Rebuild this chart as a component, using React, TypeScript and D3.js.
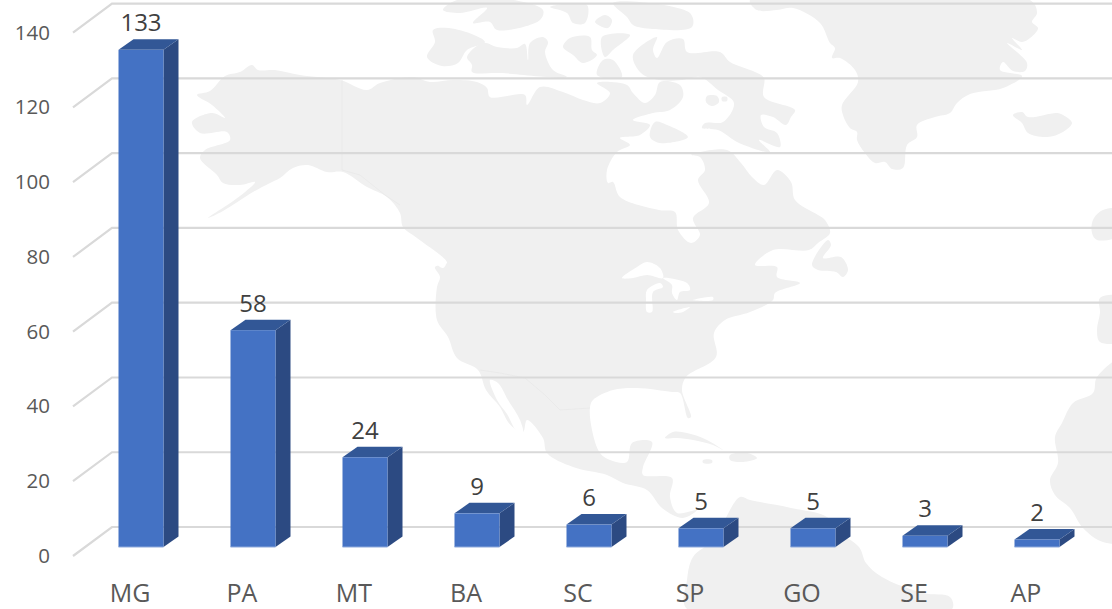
import React from "react";
import * as d3 from "d3";

const categories = ["MG", "PA", "MT", "BA", "SC", "SP", "GO", "SE", "AP"];
const counts = [133, 58, 24, 9, 6, 5, 5, 3, 2];
const yTicks = [0, 20, 40, 60, 80, 100, 120, 140];

type P = [number, number];
// Pale world-map backdrop, traced in picture pixels
const mainland: P[] = [[197,95],[212,105],[225,118],[212,113],[192,122],[200,133],[227,132],[230,140],[205,150],[200,158],[217,175],[223,183],[240,185],[255,182],[240,196],[208,218],[223,211],[253,192],[270,183],[280,178],[293,168],[308,165],[327,172],[343,172],[367,187],[387,197],[400,213],[403,227],[417,238],[447,263],[435,267],[440,277],[437,287],[437,320],[448,337],[457,358],[478,370],[486,390],[500,407],[508,422],[514,428],[523,432],[527,420],[543,438],[547,453],[573,467],[607,475],[623,483],[647,490],[662,508],[683,518],[697,510],[677,513],[670,497],[672,478],[643,475],[643,467],[652,442],[632,443],[627,462],[610,460],[600,453],[592,430],[590,407],[593,400],[613,390],[637,388],[672,392],[680,393],[688,418],[691,417],[682,390],[686,377],[716,357],[714,333],[725,320],[750,312],[773,300],[775,293],[800,283],[777,277],[777,267],[755,265],[773,250],[809,250],[818,243],[830,233],[825,220],[818,215],[795,200],[791,182],[777,170],[764,185],[752,177],[741,163],[727,150],[691,155],[700,157],[705,170],[698,180],[709,203],[693,218],[700,235],[691,243],[678,230],[675,212],[659,210],[620,197],[613,182],[608,183],[607,170],[617,152],[630,145],[620,138],[640,135],[650,125],[633,120],[653,113],[670,110],[683,97],[680,85],[660,82],[655,95],[645,103],[633,93],[627,85],[597,83],[610,93],[600,103],[583,100],[563,92],[540,87],[527,105],[525,95],[490,97],[487,88],[477,82],[453,80],[430,82],[413,77],[380,83],[367,90],[340,80],[300,75],[275,70],[258,70],[252,65],[240,72],[225,76],[210,91]];
const southAmerica: P[] = [[687,609],[687,580],[693,557],[713,540],[740,497],[750,500],[791,508],[827,517],[836,530],[859,547],[866,563],[882,577],[923,593],[950,597],[952,609]];
const greenland: P[] = [[750,0],[1030,0],[1037,13],[1032,22],[1038,28],[1030,38],[1022,42],[1012,38],[1022,50],[1007,43],[1027,63],[1025,71],[1013,71],[1003,62],[1000,70],[1022,76],[1003,88],[970,94],[957,103],[950,113],[935,117],[917,125],[917,137],[907,145],[903,168],[892,169],[885,162],[875,163],[865,153],[857,140],[857,132],[850,128],[843,115],[842,105],[858,82],[855,70],[840,58],[832,58],[835,48],[830,43],[820,23],[793,8],[777,10],[757,10]];
const baffin: P[] = [[633,55],[657,37],[653,50],[657,58],[667,42],[683,39],[687,52],[720,52],[730,62],[755,72],[764,78],[764,97],[795,110],[791,117],[786,125],[773,117],[761,115],[764,127],[777,133],[780,147],[759,140],[770,152],[739,143],[718,130],[702,128],[705,123],[723,122],[734,103],[718,90],[700,77],[682,80],[659,80],[641,73]];
const islands: P[][] = [
  [[433,30],[455,29],[485,42],[467,50],[458,63],[442,66],[427,57],[435,42]],
  [[467,57],[483,43],[497,47],[517,48],[525,44],[528,60],[530,43],[543,37],[548,42],[545,52],[553,70],[567,77],[500,73],[472,72],[472,65]],
  [[563,47],[570,38],[590,37],[592,50],[597,55],[583,63],[573,55]],
  [[602,37],[630,35],[613,50],[605,57]],
  [[597,75],[603,60],[613,60],[622,77]],
  [[443,10],[457,0],[513,0],[543,10],[540,20],[497,30],[490,22],[473,23],[487,8],[460,13]],
  [[550,7],[587,5],[585,23],[573,23],[567,13]],
  [[595,22],[605,15],[612,20],[608,28]],
  [[613,3],[690,13],[692,27],[653,29],[633,25],[627,17]],
  [[655,122],[667,125],[688,137],[660,143],[650,137]],
  [[828,240],[831,245],[823,258],[841,257],[848,270],[843,277],[836,272],[818,270],[812,265]],
  [[1013,115],[1022,112],[1028,117],[1057,113],[1063,115],[1072,123],[1063,132],[1047,137],[1028,133],[1022,123]],
  [[665,438],[673,432],[687,433],[707,440],[723,450],[713,445],[693,440],[677,438]],
  [[730,455],[747,453],[757,458],[743,462],[730,460]],
  [[703,460],[712,460],[712,463],[703,463]],
  [[1093,220],[1103,210],[1125,210],[1125,233],[1097,240],[1092,233]],
  [[1100,298],[1125,298],[1125,340],[1100,342],[1097,330],[1100,313]],
  [[1125,358],[1097,377],[1093,393],[1073,403],[1062,423],[1055,437],[1058,463],[1050,480],[1055,495],[1070,508],[1083,528],[1103,542],[1125,540]],
];
const basinIsles: P[][] = [[[707,96],[717,96],[719,102],[712,106],[706,102]], [[722,97],[727,97],[727,101],[722,101]]];
const waters: P[][] = [
  [[622,278],[637,267],[647,262],[660,268],[663,278],[647,275],[633,278]],
  [[647,290],[660,283],[663,287],[653,292],[652,312],[647,312],[646,300]],
  [[663,278],[687,283],[690,290],[680,292],[677,300],[672,293],[672,285]],
  [[673,312],[690,307],[683,312],[675,313]],
  [[693,300],[713,297],[713,300]],
  [[490,380],[498,383],[508,400],[520,420],[523,433],[516,430],[507,414],[497,400]],
  [[420,247],[432,252],[446,263],[443,268],[430,258]],
  [[832,72],[845,72],[855,76],[845,74]],
];
const borders: P[][] = [
  [[342,80],[342,170],[360,175],[385,195],[400,205]],
  [[480,370],[500,373],[525,378],[545,395],[560,410],[590,408]],
];

const WIDTH = 1112;
const HEIGHT = 609;
const MAP = "#f0f0f0";
const FONT = "'Open Sans', 'Noto Sans', sans-serif";
const FRONT = "#4472c4";
const SIDE = "#2c4a82";
const TOP = "#325796";
const DX = 15;
const DY = 10.5;
const BAR_W = 45;

const outline = d3.line<P>().curve(d3.curveCatmullRomClosed.alpha(0.5));
const trace = d3.line<P>();

export default function App() {
  const y = d3.scaleLinear().domain([0, 140]).range([547, 547 - 140 * 3.738]);
  const x = d3.scaleBand<string>().domain(categories).range([76.5, 1084.5]);
  const wallY = (v: number) => y(v) - 20;
  const barX = (c: string) => (x(c) as number) + (x.bandwidth() - BAR_W) / 2 + 8.5;

  return (
    <svg width={WIDTH} height={HEIGHT} style={{ position: "absolute", left: 0, top: 0, background: "#fff" }}>
      <defs>
        <filter id="soft" x="-5%" y="-5%" width="110%" height="110%">
          <feGaussianBlur stdDeviation="0.4" />
        </filter>
      </defs>
      <g filter="url(#soft)">
        {[mainland, southAmerica, greenland, baffin, ...islands].map((s, i) => (
          <path key={i} d={outline(s) as string} fill={MAP} />
        ))}
        {waters.map((s, i) => (
          <path key={i} d={outline(s) as string} fill="#fff" />
        ))}
        {basinIsles.map((s, i) => (
          <path key={i} d={outline(s) as string} fill={MAP} />
        ))}
        {borders.map((s, i) => (
          <path key={i} d={trace(s) as string} fill="none" stroke="#e9e9e9" strokeWidth={0.8} />
        ))}
      </g>
      <g stroke="#d9d9d9" strokeWidth={2.2} fill="none">
        {yTicks.map((t) => (
          <path key={t} d={`M73,${wallY(t) + 29}L112,${wallY(t)}H${WIDTH}`} />
        ))}
      </g>
      <g fontFamily={FONT} fontSize={20.5} fill="#595959" textAnchor="end">
        {yTicks.map((t) => (
          <text key={t} x={50} y={wallY(t) + 36}>{t}</text>
        ))}
      </g>
      {categories.map((c, i) => {
        const x0 = barX(c);
        const yTop = y(counts[i]);
        const yBase = y(0);
        const x1 = x0 + BAR_W;
        return (
          <g key={c}>
            <path d={`M${x1},${yTop}L${x1 + DX},${yTop - DY}V${yBase - DY}L${x1},${yBase}Z`} fill={SIDE} />
            <path d={`M${x0},${yTop}L${x0 + DX},${yTop - DY}H${x1 + DX}L${x1},${yTop}Z`} fill={TOP} />
            <rect x={x0} y={yTop} width={BAR_W} height={yBase - yTop} fill={FRONT} />
            <path d={`M${x0},${yBase}H${x1}`} stroke="#8faadc" strokeWidth={1} />
            <text x={x0 + BAR_W / 2} y={yTop - DY - 8} textAnchor="middle" fontFamily={FONT} fontSize={24} fill="#404040">
              {counts[i]}
            </text>
            <text x={x0 + BAR_W / 2 - 11} y={602} textAnchor="middle" fontFamily={FONT} fontSize={25} fill="#595959">
              {c}
            </text>
          </g>
        );
      })}
    </svg>
  );
}
